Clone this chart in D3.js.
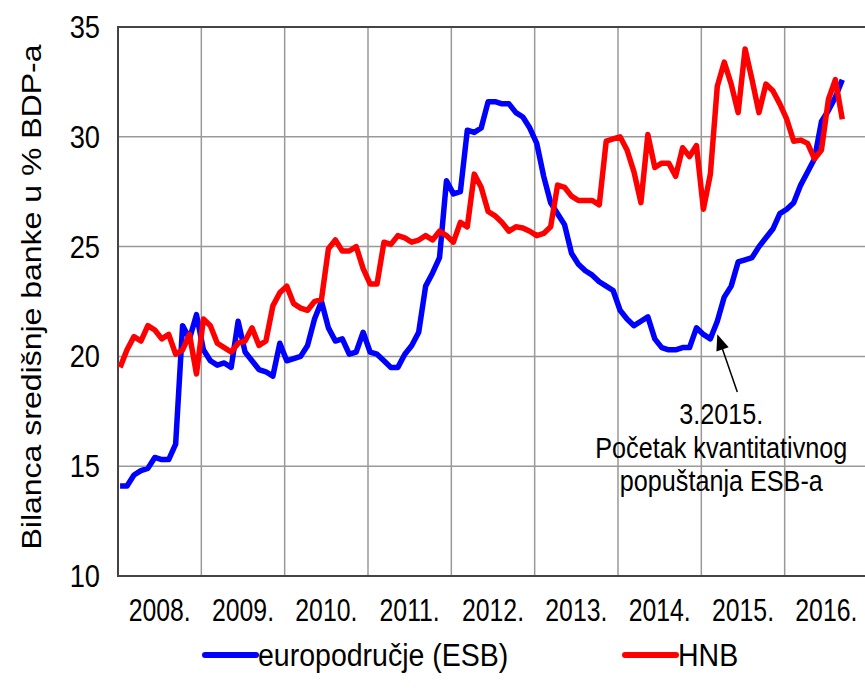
<!DOCTYPE html>
<html><head><meta charset="utf-8">
<script src="https://cdn.jsdelivr.net/npm/d3@7"></script>
<style>html,body{margin:0;padding:0;background:#fff;overflow:hidden}</style>
</head><body>
<svg id="chart" width="865" height="695"></svg>
<script>
const startYear = 2008;
const yearLabels = ["2008.","2009.","2010.","2011.","2012.","2013.","2014.","2015.","2016."];
const yTicks = [10,15,20,25,30,35];
const seriesNames = ["europodručje (ESB)","HNB"];
const esb = [14.1,14.1,14.6,14.8,14.9,15.4,15.3,15.3,16.0,21.4,20.8,21.9,
 20.3,19.8,19.6,19.7,19.5,21.6,20.2,19.8,19.4,19.3,19.1,20.6,
 19.8,19.9,20.0,20.5,21.7,22.5,21.3,20.7,20.8,20.1,20.2,21.1,
 20.2,20.1,19.8,19.5,19.5,20.1,20.5,21.1,23.2,23.8,24.5,28.0,
 27.4,27.5,30.3,30.2,30.4,31.6,31.6,31.5,31.5,31.1,30.9,30.4,
 29.7,28.2,27.0,26.5,26.0,24.7,24.2,23.9,23.7,23.4,23.2,23.0,
 22.1,21.7,21.4,21.6,21.8,20.8,20.4,20.3,20.3,20.4,20.4,21.3,
 21.0,20.8,21.6,22.7,23.2,24.3,24.4,24.5,25.0,25.4,25.8,26.5,
 26.7,27.0,27.8,28.4,29.0,30.7,31.2,31.8,32.6];
const hnb = [19.5,20.3,20.9,20.7,21.4,21.2,20.8,21.0,20.1,20.3,21.0,19.2,
 21.7,21.4,20.6,20.4,20.2,20.6,20.7,21.3,20.5,20.7,22.3,22.9,
 23.2,22.4,22.2,22.1,22.5,22.6,24.9,25.3,24.8,24.8,25.0,24.0,
 23.3,23.3,25.2,25.1,25.5,25.4,25.2,25.3,25.5,25.3,25.7,25.5,
 25.2,26.1,25.9,28.3,27.7,26.6,26.4,26.1,25.7,25.9,25.85,25.7,
 25.5,25.6,25.9,27.8,27.7,27.3,27.1,27.1,27.1,26.9,29.8,29.9,
 30.0,29.4,28.4,27.0,30.1,28.6,28.8,28.8,28.2,29.5,29.1,29.6,
 26.7,28.3,32.3,33.4,32.4,31.1,34.0,32.6,31.1,32.4,32.1,31.5,
 30.8,29.8,29.85,29.7,29.0,29.4,31.7,32.6,30.8];
const annotIndex = 86; // March 2015
const annotLines = ["3.2015.","Početak kvantitativnog","popuštanja ESB-a"];
const yTitle = "Bilanca središnje banke u % BDP-a";

const svg = d3.select("#chart");
const FONT = "'Liberation Sans', Arial, sans-serif";
const pL = 118, pR = 868, pT = 27, pB = 576;
const x = d3.scaleLinear().domain([startYear, startYear + 9]).range([pL, pR]);
const y = d3.scaleLinear().domain([10, 35]).range([pB, pT]);
const mx = i => x(startYear + (i + 0.3) / 12);

function txt(g, s, px, py, size, anchor, sx) {
  return g.append("text").attr("transform", `translate(${px},${py}) scale(${sx},1)`)
    .attr("font-family", FONT).attr("font-size", size).attr("text-anchor", anchor).attr("fill", "#000").text(s);
}

// grid
const grid = svg.append("g");
grid.selectAll("line.v").data(d3.range(startYear + 1, startYear + 9)).join("line")
  .attr("x1", d => x(d)).attr("x2", d => x(d)).attr("y1", pT).attr("y2", pB)
  .attr("stroke", "#999").attr("stroke-width", 1.5);
grid.selectAll("line.h").data(yTicks.filter(d => d > 10 && d < 35)).join("line")
  .attr("x1", pL).attr("x2", pR).attr("y1", d => y(d)).attr("y2", d => y(d))
  .attr("stroke", "#999").attr("stroke-width", 1.5);
// frame
svg.append("path").attr("d", `M${pR},${pT}H${pL}V${pB}H${pR}`)
  .attr("fill", "none").attr("stroke", "#444").attr("stroke-width", 2);

// y labels
yTicks.forEach(t => txt(svg, String(t), 100, y(t) + 11, 31, "end", 0.88));
// x labels
yearLabels.forEach((l, i) => txt(svg, l, x(startYear + i + 0.5), 621, 31, "middle", 0.8));
// y title
svg.append("text").attr("transform", `translate(41,297) scale(0.84,1) rotate(-90)`)
  .attr("font-family", FONT).attr("font-size", 32).attr("text-anchor", "middle").attr("fill", "#000").text(yTitle);

// lines
const line = d3.line().x((d, i) => mx(i)).y(d => y(d));
svg.append("path").datum(esb).attr("d", line).attr("fill", "none").attr("stroke", "#0000ff")
  .attr("stroke-width", 5.5).attr("stroke-linejoin", "round");
svg.append("path").datum(hnb).attr("d", line).attr("fill", "none").attr("stroke", "#ff0000")
  .attr("stroke-width", 5.5).attr("stroke-linejoin", "round");

// annotation
const ax = mx(annotIndex), ay = y(esb[annotIndex]);
const tipX = ax, tipY = ay + 13, tailX = ax + 20, tailY = 392;
const ang = Math.atan2(tipY - tailY, tipX - tailX);
svg.append("line").attr("x1", tailX).attr("y1", tailY)
  .attr("x2", tipX - 12 * Math.cos(ang)).attr("y2", tipY - 12 * Math.sin(ang))
  .attr("stroke", "#000").attr("stroke-width", 1.5);
const hl = 16, hw = 6.5;
const bx = tipX - hl * Math.cos(ang), by = tipY - hl * Math.sin(ang);
svg.append("path").attr("d", `M${tipX},${tipY}L${bx + hw * Math.sin(ang)},${by - hw * Math.cos(ang)}L${bx - hw * Math.sin(ang)},${by + hw * Math.cos(ang)}Z`)
  .attr("fill", "#000");
annotLines.forEach((s, i) => txt(svg, s, ax + 4, 424 + i * 33.5, 30, "middle", 0.84));

// legend
const colors = ["#0000ff", "#ff0000"];
const legX = [205, 625];
seriesNames.forEach((n, i) => {
  svg.append("line").attr("x1", legX[i]).attr("x2", legX[i] + 51).attr("y1", 655).attr("y2", 655)
    .attr("stroke", colors[i]).attr("stroke-width", 6).attr("stroke-linecap", "round");
  txt(svg, n, legX[i] + 53, 666, 31, "start", 0.92);
});
</script>
</body></html>
